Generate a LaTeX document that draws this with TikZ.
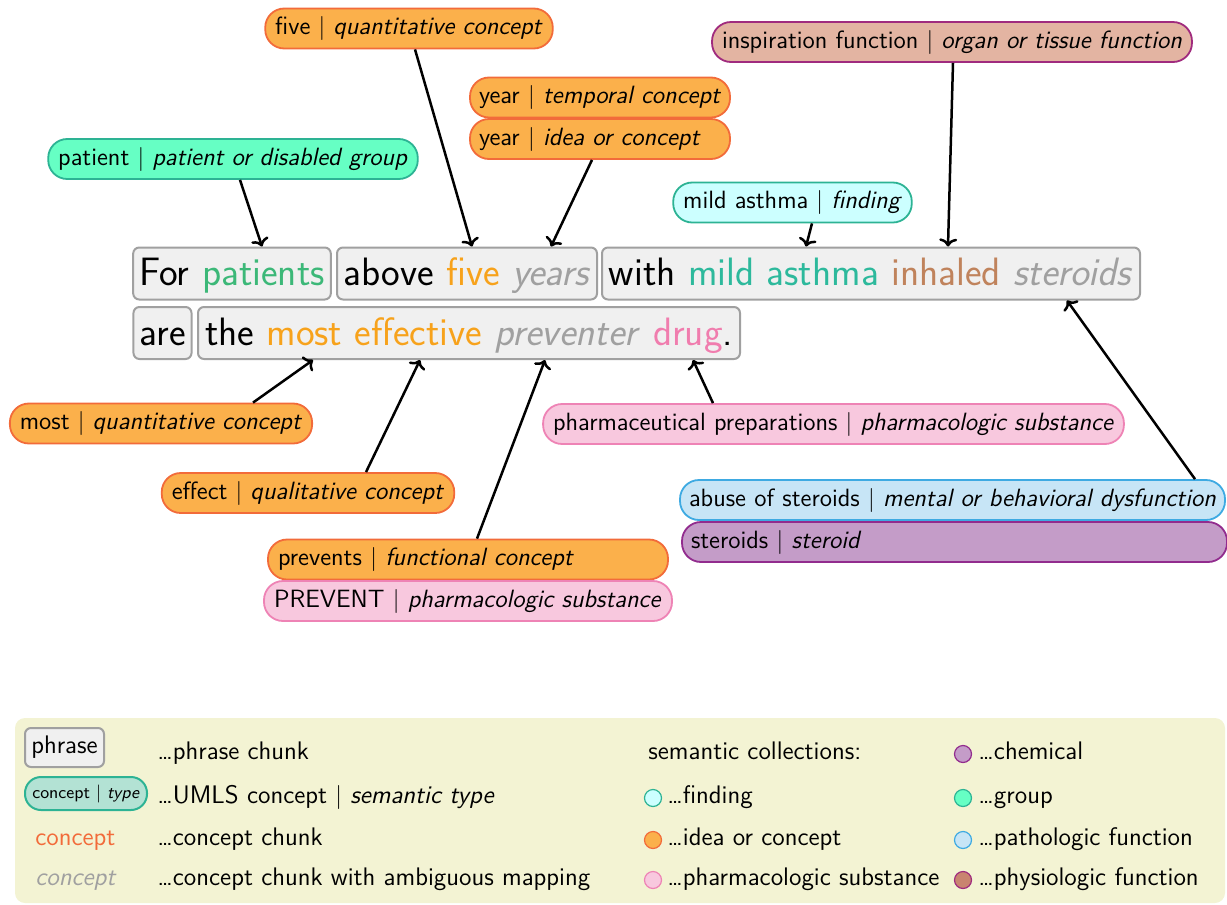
\documentclass[tikz,border=0pt]{standalone}
\usetikzlibrary{arrows.meta}
\definecolor{ideaFill}{HTML}{FBB04B}
\definecolor{ideaDraw}{HTML}{F26B3A}
\definecolor{grpFill}{HTML}{66FFC4}
\definecolor{grpDraw}{HTML}{2DB394}
\definecolor{findFill}{HTML}{CCFFFF}
\definecolor{pharmFill}{HTML}{F8C8DE}
\definecolor{pharmDraw}{HTML}{EE83B5}
\definecolor{physFill}{HTML}{E3B4A2}
\definecolor{physDraw}{HTML}{A02B7E}
\definecolor{physDot}{HTML}{C98470}
\definecolor{pathFill}{HTML}{C7E5F6}
\definecolor{pathDraw}{HTML}{3EAAE2}
\definecolor{chemFill}{HTML}{C49CC8}
\definecolor{chemDraw}{HTML}{922C8E}
\definecolor{phraseFill}{HTML}{F0F0F0}
\definecolor{phraseDraw}{HTML}{A0A0A0}
\definecolor{legBg}{HTML}{F3F3D3}
\definecolor{legConcept}{HTML}{B3E2D4}
\definecolor{wGreen}{HTML}{3CB878}
\definecolor{wOrange}{HTML}{F7A21B}
\definecolor{wGray}{HTML}{A0A0A0}
\definecolor{wTeal}{HTML}{2DB99C}
\definecolor{wBrown}{HTML}{C0835C}
\definecolor{wPink}{HTML}{F07DAE}
\definecolor{wRed}{HTML}{F26B3A}
\begin{document}
\begin{tikzpicture}[x=0.5pt,y=-0.5pt,font=\sffamily,
  concept/.style={rectangle,rounded corners=9.5pt,draw,line width=0.9pt,
    minimum height=20pt,inner xsep=5pt,inner ysep=0pt,
    font=\sffamily\fontsize{12.5}{14}\selectfont,text height=9pt,text depth=3pt},
  idea/.style={concept,fill=ideaFill,draw=ideaDraw},
  grp/.style={concept,fill=grpFill,draw=grpDraw},
  find/.style={concept,fill=findFill,draw=grpDraw},
  pharm/.style={concept,fill=pharmFill,draw=pharmDraw},
  phys/.style={concept,fill=physFill,draw=physDraw},
  path/.style={concept,fill=pathFill,draw=pathDraw},
  chem/.style={concept,fill=chemFill,draw=chemDraw},
  phrase/.style={rectangle,rounded corners=3pt,draw=phraseDraw,fill=phraseFill,
    line width=1pt,minimum height=26pt,inner xsep=3pt,inner ysep=0pt,
    font=\sffamily\fontsize{19.8}{23}\selectfont,text height=14.5pt,text depth=2.5pt},
  link/.style={line width=1.25pt,-{To[length=4pt,width=9pt]}},
  legtext/.style={anchor=base west,inner sep=0pt,font=\sffamily\fontsize{12.7}{15}\selectfont},
  legdot/.style={circle,minimum size=8.5pt,inner sep=0pt,line width=0.6pt}
]
\useasboundingbox (0,0) rectangle (1227,905);

% phrase chunks
\node[phrase,minimum width=98pt] (ph1) at (232,273.5) {For \textcolor{wGreen}{patients}};
\node[phrase,minimum width=130pt] (ph2) at (467,273.5) {above \textcolor{wOrange}{five} \textcolor{wGray}{\textit{years}}};
\node[phrase,minimum width=269pt] (ph3) at (871,273.5) {with \textcolor{wTeal}{mild asthma} \textcolor{wBrown}{inhaled} \textcolor{wGray}{\textit{steroids}}};
\node[phrase,minimum width=28.5pt] (ph4) at (162.5,333) {are};
\node[phrase,minimum width=271pt] (ph5) at (469,333) {the \textcolor{wOrange}{most effective} \textcolor{wGray}{\textit{preventer}} \textcolor{wPink}{drug}.};

% concepts
\node[idea] (five) at (409,28.5) {five $|$ \textit{quantitative concept}};
\node[idea,text width=121pt,inner xsep=4.5pt,align=left] (yeart) at (600,97.5) {\mbox{year $|$ \textit{temporal concept}}};
\node[idea,text width=121pt,inner xsep=4.5pt,align=left] (yeari) at (600,139) {\mbox{year $|$ \textit{idea or concept}}};
\node[grp] (patient) at (233,159) {patient $|$ \textit{patient or disabled group}};
\node[phys] (insp) at (952,42) {inspiration function $|$ \textit{organ or tissue function}};
\node[find] (mild) at (792.5,202.5) {mild asthma $|$ \textit{finding}};
\node[idea] (most) at (161,423.5) {most $|$ \textit{quantitative concept}};
\node[idea] (effect) at (308,493) {effect $|$ \textit{qualitative concept}};
\node[idea,text width=190pt,align=left] (prevents) at (468,559.5) {\mbox{prevents $|$ \textit{functional concept}}};
\node[pharm,text width=194pt,align=left] (PREVENT) at (468,601) {\mbox{PREVENT $|$ \textit{pharmacologic substance}}};
\node[pharm] (pharmprep) at (833.5,424) {pharmaceutical preparations $|$ \textit{pharmacologic substance}};
\node[path,text width=263.5pt,inner xsep=4.5pt,align=left] (abuse) at (952.5,500) {\mbox{abuse of steroids $|$ \textit{mental or behavioral dysfunction}}};
\node[chem,text width=263.5pt,inner xsep=4.5pt,align=left] (steroids) at (954.5,542) {\mbox{steroids $|$ \textit{steroid}}};

% connectors
\draw[link] ([xshift=3.5pt]patient.south) -- ([xshift=15pt]ph1.north);
\draw[link] ([xshift=3pt]five.south) -- ([xshift=2.5pt]ph2.north);
\draw[link] ([xshift=-4pt]yeari.south) -- ([xshift=42pt]ph2.north);
\draw[link] ([xshift=9.75pt]mild.south) -- ([xshift=-32.5pt]ph3.north);
\draw[link] ([xshift=0.5pt]insp.south) -- ([xshift=38.5pt]ph3.north);
\draw[link] ([xshift=121.25pt]abuse.north) -- ([xshift=98pt]ph3.south);
\draw[link] ([xshift=46pt]most.north) -- ([xshift=-78pt]ph5.south);
\draw[link] ([xshift=29pt]effect.north) -- ([xshift=-24.5pt]ph5.south);
\draw[link] ([xshift=4.5pt]prevents.north) -- ([xshift=38pt]ph5.south);
\draw[link] ([xshift=-60.25pt]pharmprep.north) -- ([xshift=112pt]ph5.south);

% legend
\fill[legBg,rounded corners=5pt] (15,718) rectangle (1225,903);
\node[rectangle,rounded corners=3pt,draw=phraseDraw,fill=phraseFill,line width=1pt,
  minimum width=39.5pt,minimum height=19.5pt,inner xsep=2pt,inner ysep=0pt,
  font=\sffamily\fontsize{12.7}{15}\selectfont] (lphrase) at (64.5,747.5) {phrase};
\node[rectangle,rounded corners=8pt,draw=grpDraw,fill=legConcept,line width=1pt,
  minimum width=61pt,minimum height=16.5pt,inner xsep=3pt,inner ysep=0pt,
  font=\sffamily\fontsize{8.7}{10}\selectfont] (lconcept) at (86,793.5) {concept $|$ \textit{type}};
\node[legtext] (lt1) at (157,759) {\ldots phrase chunk};
\node[legtext] (lt2) at (157,803) {\ldots UMLS concept $|$ \textit{semantic type}};
\node[legtext,text=wRed] (lc3) at (35,845) {concept};
\node[legtext] (lt3) at (157,845) {\ldots concept chunk};
\node[legtext,text=wGray] (lc4) at (35,885) {\textit{concept}};
\node[legtext] (lt4) at (157,885) {\ldots concept chunk with ambiguous mapping};

\node[legtext] (lsem) at (648,759) {semantic collections:};
\node[legdot,fill=findFill,draw=grpDraw] (d1) at (653,798) {};
\node[legtext] (s1) at (667,803) {\ldots finding};
\node[legdot,fill=ideaFill,draw=ideaDraw] (d2) at (653,840) {};
\node[legtext] (s2) at (667,845) {\ldots idea or concept};
\node[legdot,fill=pharmFill,draw=pharmDraw] (d3) at (653,880) {};
\node[legtext] (s3) at (667,885) {\ldots pharmacologic substance};
\node[legdot,fill=chemFill,draw=chemDraw] (d4) at (963,754) {};
\node[legtext] (s4) at (978,759) {\ldots chemical};
\node[legdot,fill=grpFill,draw=grpDraw] (d5) at (963,798) {};
\node[legtext] (s5) at (978,803) {\ldots group};
\node[legdot,fill=pathFill,draw=pathDraw] (d6) at (963,840) {};
\node[legtext] (s6) at (978,845) {\ldots pathologic function};
\node[legdot,fill=physDot,draw=physDraw] (d7) at (963,880) {};
\node[legtext] (s7) at (978,885) {\ldots physiologic function};
\end{tikzpicture}
\end{document}
